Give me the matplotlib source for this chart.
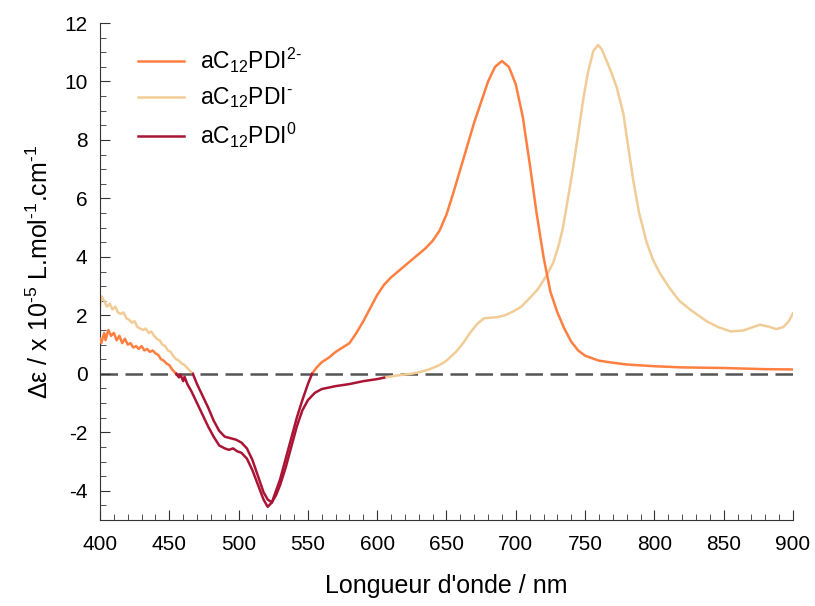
import numpy as np
import matplotlib
matplotlib.use("Agg")
import matplotlib.pyplot as plt
from matplotlib.ticker import MultipleLocator

plt.rcParams["font.family"] = ["Liberation Sans", "DejaVu Sans"]
plt.rcParams["mathtext.fontset"] = "custom"
plt.rcParams["mathtext.rm"] = "Liberation Sans"
plt.rcParams["mathtext.it"] = "Liberation Sans:italic"
plt.rcParams["mathtext.default"] = "rm"
plt.rcParams["axes.unicode_minus"] = False

nan = np.nan

# aC12PDI2- (orange); nan marks where the neutral trace takes over
wl_dian = [400, 401, 403, 404, 406, 408, 410, 412, 414, 416, 418, 420, 422, 424, 426,
           428, 430, 432, 434, 436, 438, 440, 442, 444, 446, 448, 450, 452, 454, 455,
           500,
           553, 556, 560, 565, 570, 575, 580, 585, 590, 595, 600, 605, 610, 615, 620,
           625, 630, 635, 640, 645, 650, 655, 660, 665, 670, 675, 680, 685, 690, 695,
           700, 705, 710, 715, 720, 725, 730, 735, 740, 745, 750, 760, 770, 780, 800,
           820, 850, 880, 900]
de_dian = [1.2, 1.05, 1.4, 1.15, 1.5, 1.3, 1.4, 1.15, 1.3, 1.05, 1.2, 1.0, 1.05, 0.9, 0.95,
           0.85, 0.95, 0.8, 0.85, 0.75, 0.8, 0.7, 0.65, 0.5, 0.45, 0.35, 0.3, 0.15, 0.05, 0.0,
           nan,
           0.0, 0.2, 0.4, 0.55, 0.75, 0.9, 1.05, 1.4, 1.8, 2.25, 2.7, 3.05, 3.3, 3.5, 3.7,
           3.9, 4.1, 4.3, 4.55, 4.9, 5.45, 6.2, 7.0, 7.8, 8.6, 9.3, 10.0, 10.5, 10.7, 10.5,
           9.9, 8.8, 7.2, 5.5, 4.0, 2.8, 2.1, 1.55, 1.1, 0.8, 0.62, 0.45, 0.38, 0.32, 0.26,
           0.22, 0.2, 0.16, 0.15]

# aC12PDI- (light)
wl_anion = [400, 401, 403, 405, 407, 409, 411, 413, 415, 417, 419, 421, 423, 425, 427,
            429, 431, 433, 435, 437, 439, 441, 443, 445, 447, 449, 451, 453, 455, 457,
            459, 461, 463, 465, 467,
            540,
            605, 615, 624, 630, 638, 645, 650, 657, 662, 667, 672, 677, 682, 687, 692,
            698, 704, 710, 716, 722, 727, 731, 734, 738, 741.5, 745, 748.7, 752, 756,
            759.5, 762, 765.6, 769, 772.8, 777.6, 781, 784.8, 789, 794.4, 799, 804, 811,
            818, 826, 838, 846, 855, 864, 870, 876, 882, 888, 893, 897, 900]
de_anion = [2.3, 2.65, 2.5, 2.3, 2.4, 2.2, 2.3, 2.1, 2.05, 2.1, 1.9, 1.85, 1.75, 1.8, 1.6,
            1.55, 1.5, 1.55, 1.4, 1.45, 1.3, 1.2, 1.15, 1.0, 0.95, 0.8, 0.75, 0.6, 0.5, 0.45,
            0.35, 0.3, 0.2, 0.1, 0.0,
            nan,
            -0.13, -0.05, 0.0, 0.05, 0.16, 0.3, 0.45, 0.76, 1.05, 1.4, 1.7, 1.9, 1.92, 1.94, 2.0,
            2.13, 2.3, 2.59, 2.9, 3.35, 3.8, 4.4, 5.0, 6.1, 7.1, 8.2, 9.4, 10.3, 11.05,
            11.25, 11.1, 10.7, 10.3, 9.8, 8.9, 7.8, 6.6, 5.5, 4.5, 3.9, 3.44, 2.93,
            2.5, 2.19, 1.79, 1.6, 1.45, 1.48, 1.58, 1.68, 1.62, 1.53, 1.6, 1.8, 2.07]

# aC12PDI0 (dark red), two traces in the negative band
wl_neu_a = [455, 457, 458, 460, 461, 463, 466, 470, 474, 478, 482, 486, 490, 493, 496,
            499, 502, 506, 510, 514, 518, 521, 524, 527, 530, 534, 538, 542, 546, 550, 553]
de_neu_a = [0.0, -0.12, -0.02, -0.25, -0.1, -0.35, -0.6, -1.0, -1.4, -1.8, -2.15, -2.45, -2.55, -2.6, -2.55,
            -2.65, -2.7, -2.9, -3.3, -3.8, -4.3, -4.55, -4.4, -4.0, -3.6, -2.9, -2.2, -1.5, -0.9, -0.35, 0.0]
wl_neu_b = [467, 470, 474, 478, 482, 486, 490, 494, 498, 502, 506, 510, 514, 518, 521,
            524, 527, 530, 534, 538, 542, 546, 550, 555, 560, 570, 580, 590, 600, 605]
de_neu_b = [0.0, -0.35, -0.75, -1.15, -1.6, -1.95, -2.15, -2.2, -2.25, -2.35, -2.55, -2.95, -3.5, -4.05, -4.3,
            -4.4, -4.15, -3.8, -3.2, -2.5, -1.8, -1.25, -0.9, -0.65, -0.52, -0.42, -0.35, -0.25, -0.18, -0.13]

c_dian = "#FF7F40"
c_anion = "#F2CC96"
c_neu = "#AA1535"

fig = plt.figure(figsize=(8.15, 6.06), dpi=100)
ax = fig.add_axes([0.1227, 0.1419, 0.8503, 0.8201])

ax.axhline(0, color="#555555", lw=1.8, ls=(0, (7, 3)), zorder=1)

ax.plot(wl_dian, de_dian, color=c_dian, lw=1.8, label=r"aC$_{12}$PDI$^{2\text{-}}$", zorder=3)
ax.plot(wl_anion, de_anion, color=c_anion, lw=1.8, label=r"aC$_{12}$PDI$^{\text{-}}$", zorder=2)
ax.plot(wl_neu_a, de_neu_a, color=c_neu, lw=1.8, label=r"aC$_{12}$PDI$^{0}$", zorder=4)
ax.plot(wl_neu_b, de_neu_b, color=c_neu, lw=1.8, zorder=4)

ax.set_xlim(400, 900)
ax.set_ylim(-5, 12)
ax.xaxis.set_major_locator(MultipleLocator(50))
ax.xaxis.set_minor_locator(MultipleLocator(10))
ax.yaxis.set_major_locator(MultipleLocator(2))
ax.yaxis.set_minor_locator(MultipleLocator(0.5))
ax.tick_params(which="both", direction="in", labelsize=15, color="#333333")
ax.tick_params(which="major", length=7)
ax.tick_params(which="minor", length=4)
ax.tick_params(axis="x", pad=11)
ax.tick_params(axis="y", pad=9)
for s in ("top", "right"):
    ax.spines[s].set_visible(False)
for s in ("left", "bottom"):
    ax.spines[s].set_color("#333333")

ax.set_xlabel("Longueur d'onde / nm", fontsize=18, labelpad=14)
ax.set_ylabel("\u0394\u03b5 / x 10$^{\\text{-5}}$ L.mol$^{\\text{-1}}$.cm$^{\\text{-1}}$",
              fontsize=18, labelpad=8)

ax.legend(loc="upper left", bbox_to_anchor=(0.025, 0.995), frameon=False, fontsize=16.5,
          handlelength=2.0, labelspacing=0.45, handletextpad=0.7)

fig.savefig("out.png", dpi=100)
